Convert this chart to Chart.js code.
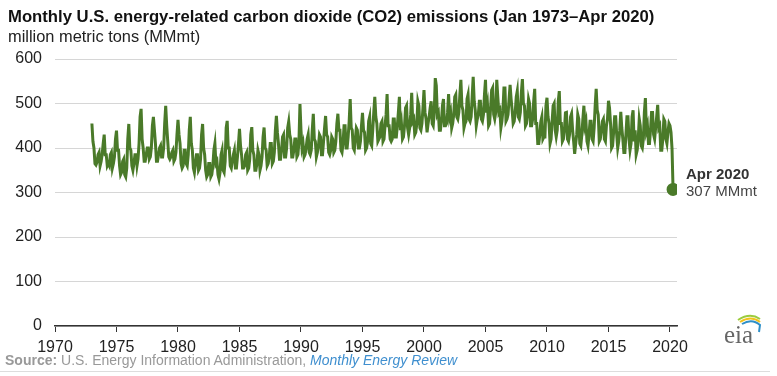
<!DOCTYPE html>
<html lang="en">
<head>
  <meta charset="UTF-8">
  <title>Monthly U.S. energy-related CO2 emissions</title>
  <script src="https://cdn.jsdelivr.net/npm/chart.js"></script>
  <style>
    body { margin: 0; background: #FFFFFF; font-family: "Liberation Sans", Arial, sans-serif; }
    .wrap { position: relative; width: 777px; height: 376px; overflow: hidden; }
    canvas { position: absolute; left: 0; top: 0; }
    .titulo { position: absolute; left: 8px; top: 7px; font-size: 16.7px; font-weight: bold; color: #111; white-space: nowrap; }
    .unidade { position: absolute; left: 8px; top: 27px; font-size: 16.4px; color: #222; white-space: nowrap; }
    .nota1 { position: absolute; left: 686px; top: 165px; font-size: 15px; font-weight: bold; color: #333; }
    .nota2 { position: absolute; left: 686px; top: 182px; font-size: 15px; color: #444; }
    .fonte { position: absolute; left: 5px; top: 352px; font-size: 14px; color: #999; white-space: nowrap; }
    .fonte b { color: #999; }
    .fonte i { color: #3f8fcf; }
    .linha { position: absolute; left: 0; top: 371px; width: 770px; height: 1px; background: #ddd; }
    .logo { position: absolute; left: 718px; top: 310px; width: 48px; height: 36px; }
  </style>
</head>
<body>
<div class="wrap">
  <canvas id="grafico" width="777" height="376"></canvas>
  <div class="titulo">Monthly U.S. energy-related carbon dioxide (CO2) emissions (Jan 1973–Apr 2020)</div>
  <div class="unidade">million metric tons (MMmt)</div>
  <div class="nota1">Apr 2020</div>
  <div class="nota2">307 MMmt</div>
  <div class="fonte"><b>Source:</b> U.S. Energy Information Administration, <i>Monthly Energy Review</i></div>
  <div class="linha"></div>
  <svg class="logo" viewBox="0 0 48 36">
    <path d="M20 10 Q32 2 42 9" stroke="#9ccc3c" stroke-width="2" fill="none"/>
    <path d="M22 12 Q33 5 42 12" stroke="#f2c21b" stroke-width="2" fill="none"/>
    <path d="M24 14 Q34 8 42 15 L41 22" stroke="#2e8fc8" stroke-width="2" fill="none"/>
    <text x="6" y="33" font-family="Liberation Serif, serif" font-size="25" fill="#666">eia</text>
  </svg>
</div>

<script>
  // monthly emissions, Jan..Dec, million metric tons
  const anoInicial = 1973;
  const anos1970 = [
    455, 415, 400, 365, 362, 368, 385, 390, 360, 370, 385, 410,
    430, 385, 385, 360, 365, 360, 385, 390, 355, 365, 380, 420,
    439, 395, 395, 360, 340, 345, 370, 375, 340, 335, 355, 420,
    454, 400, 395, 360, 350, 365, 385, 385, 360, 375, 410, 470,
    488, 420, 400, 370, 370, 385, 400, 400, 375, 380, 400, 450,
    470, 440, 410, 370, 370, 385, 400, 405, 380, 380, 400, 455,
    495, 450, 415, 380, 375, 380, 390, 395, 370, 375, 390, 430
  ];
  const anos1980 = [
    463, 430, 410, 365, 355, 360, 395, 395, 365, 360, 385, 440,
    470, 410, 395, 355, 345, 365, 385, 385, 350, 355, 375, 430,
    454, 400, 385, 350, 335, 340, 365, 365, 335, 340, 360, 395,
    410, 365, 370, 340, 330, 345, 385, 395, 350, 345, 370, 445,
    461, 400, 400, 360, 355, 370, 385, 395, 355, 355, 380, 410,
    443, 405, 385, 355, 355, 360, 385, 390, 350, 355, 375, 430,
    447, 395, 385, 350, 350, 365, 395, 385, 350, 360, 380, 425,
    446, 400, 395, 360, 365, 380, 410, 410, 365, 370, 390, 440,
    472, 435, 410, 375, 375, 395, 425, 430, 380, 380, 400, 445,
    459, 430, 420, 380, 380, 395, 420, 420, 380, 385, 415, 499
  ];
  const anos1990 = [
    440, 400, 410, 380, 385, 400, 420, 430, 390, 385, 395, 440,
    477, 420, 415, 380, 390, 405, 430, 425, 385, 385, 415, 445,
    472, 430, 425, 390, 385, 395, 425, 420, 390, 395, 415, 455,
    477, 440, 440, 395, 390, 410, 450, 450, 400, 400, 425, 460,
    510, 445, 440, 400, 395, 420, 445, 440, 400, 400, 415, 450,
    479, 440, 435, 395, 400, 415, 460, 470, 410, 405, 440, 480,
    515, 470, 455, 415, 420, 425, 455, 460, 415, 420, 450, 475,
    521, 450, 450, 420, 415, 420, 465, 465, 425, 425, 450, 480,
    515, 440, 455, 420, 425, 450, 490, 495, 445, 430, 445, 475,
    524, 460, 465, 430, 435, 455, 505, 495, 445, 440, 455, 490
  ];
  const anos2000 = [
    530, 480, 465, 435, 455, 470, 490, 505, 455, 450, 480, 557,
    540, 475, 480, 440, 440, 460, 495, 510, 450, 450, 455, 480,
    521, 470, 480, 445, 455, 475, 515, 520, 470, 465, 480, 520,
    553, 495, 485, 445, 455, 460, 510, 520, 465, 460, 470, 515,
    560, 505, 485, 450, 465, 475, 505, 505, 465, 460, 475, 520,
    553, 480, 495, 450, 455, 490, 530, 535, 475, 465, 480, 553,
    515, 480, 485, 445, 460, 485, 535, 535, 460, 465, 475, 510,
    542, 510, 485, 455, 460, 480, 515, 528, 470, 465, 480, 525,
    555, 500, 495, 450, 455, 475, 510, 500, 450, 450, 465, 505,
    533, 455, 455, 410, 410, 430, 460, 470, 420, 425, 425, 495
  ];
  const anos2010 = [
    513, 470, 455, 410, 420, 460, 495, 500, 440, 425, 440, 505,
    528, 455, 455, 415, 420, 440, 479, 480, 420, 415, 430, 470,
    477, 440, 415, 387, 410, 430, 475, 465, 410, 405, 430, 465,
    495, 450, 460, 415, 405, 430, 460, 460, 420, 415, 445, 495,
    533, 485, 475, 415, 420, 440, 460, 465, 420, 415, 450, 465,
    506, 490, 455, 400, 405, 435, 470, 470, 430, 400, 415, 440,
    481, 445, 420, 390, 390, 430, 470, 470, 420, 395, 410, 470,
    485, 415, 440, 385, 395, 420, 465, 450, 405, 400, 420, 480,
    512, 440, 450, 410, 410, 440, 480, 480, 430, 420, 445, 470,
    497, 445, 450, 395, 395, 420, 465, 460, 420, 410, 435, 455
  ];
  const anos2020 = [450, 435, 398, 307];

  const marcasAnos = [1970, 1975, 1980, 1985, 1990, 1995, 2000, 2005, 2010, 2015, 2020];
  const marcasY = [0, 100, 200, 300, 400, 500, 600];

  const valores = [].concat(anos1970, anos1980, anos1990, anos2000, anos2010, anos2020);
  const pontos = valores.map((v, i) => ({ x: anoInicial + i / 12, y: v }));
  const ultimo = pontos.length - 1;
  const verde = "#4a7a29";

  new Chart(document.getElementById("grafico"), {
    type: "line",
    data: {
      datasets: [{
        data: pontos,
        borderColor: verde,
        backgroundColor: verde,
        borderWidth: 3,
        tension: 0,
        pointRadius: ctx => ctx.dataIndex === ultimo ? 5 : 0,
        pointHoverRadius: 0
      }]
    },
    options: {
      responsive: false,
      animation: false,
      layout: { padding: { top: 59, right: 100, left: 0, bottom: 0 } },
      plugins: { legend: { display: false }, tooltip: { enabled: false } },
      scales: {
        x: {
          type: "linear",
          min: 1970,
          max: 2020.57,
          afterBuildTicks: s => { s.ticks = marcasAnos.map(v => ({ value: v })); },
          afterFit: s => { s.height = 50; },
          grid: { drawOnChartArea: false, drawTicks: true, tickLength: 6, color: "#333" },
          border: { color: "#333", width: 1.5 },
          ticks: {
            padding: 6,
            color: "#222",
            font: { family: "Liberation Sans", size: 16 },
            maxRotation: 0,
            callback: v => String(v)
          }
        },
        y: {
          min: 0,
          max: 600,
          afterBuildTicks: s => { s.ticks = marcasY.map(v => ({ value: v })); },
          afterFit: s => { s.width = 55; },
          grid: { drawTicks: false, color: "#d6d6d6" },
          border: { display: false },
          ticks: {
            padding: 13,
            color: "#222",
            font: { family: "Liberation Sans", size: 16 }
          }
        }
      }
    }
  });
</script>
</body>
</html>
